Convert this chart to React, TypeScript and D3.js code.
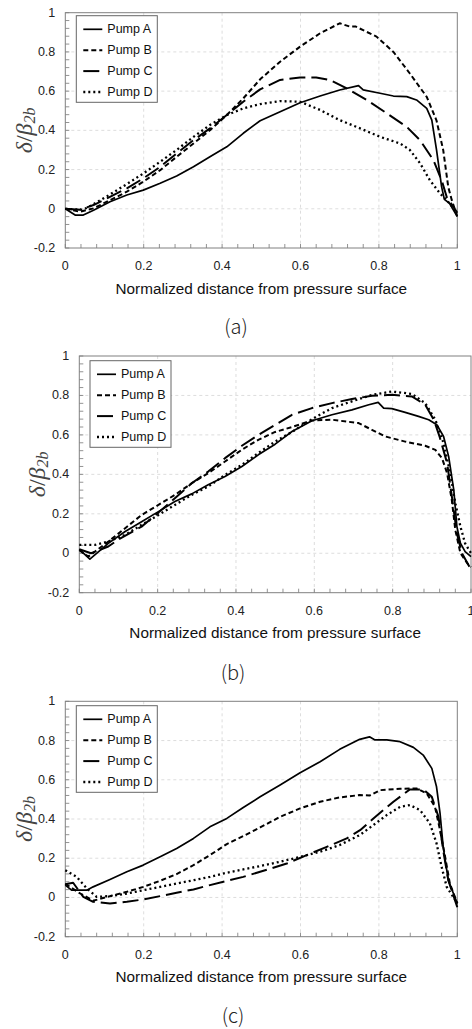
import React from "react";
import * as d3 from "d3";

type Pt = [number, number];

// ---------- data ----------
const pumpNames = ["Pump A", "Pump B", "Pump C", "Pump D"];
const xTicks = [0, 0.2, 0.4, 0.6, 0.8, 1];
const yTicks = [-0.2, 0, 0.2, 0.4, 0.6, 0.8, 1];
const xTickLabels = ["0", "0.2", "0.4", "0.6", "0.8", "1"];
const yTickLabels = ["-0.2", "0", "0.2", "0.4", "0.6", "0.8", "1"];
const captions = ["(a)", "(b)", "(c)"];

const aPumpA: Pt[] = [[0,0],[0.025,-0.032],[0.046,-0.032],[0.072,-0.007],[0.114,0.036],[0.157,0.07],[0.199,0.095],[0.242,0.13],[0.284,0.167],[0.327,0.214],[0.369,0.265],[0.412,0.316],[0.454,0.385],[0.497,0.449],[0.548,0.495],[0.599,0.541],[0.65,0.575],[0.70,0.606],[0.748,0.628],[0.76,0.606],[0.803,0.589],[0.837,0.575],[0.871,0.572],[0.896,0.555],[0.922,0.512],[0.935,0.452],[0.947,0.30],[0.96,0.112],[0.967,0.048],[0.98,0.028],[1.0,-0.04]];
const aPumpB: Pt[] = [[0,0],[0.037,-0.015],[0.072,0.002],[0.114,0.044],[0.157,0.087],[0.199,0.138],[0.242,0.197],[0.284,0.265],[0.327,0.333],[0.369,0.401],[0.412,0.478],[0.454,0.563],[0.497,0.66],[0.548,0.75],[0.599,0.827],[0.65,0.895],[0.70,0.946],[0.726,0.929],[0.74,0.93],[0.794,0.878],[0.837,0.80],[0.879,0.69],[0.922,0.571],[0.947,0.45],[0.964,0.30],[0.977,0.11],[0.986,0.044],[1.0,-0.04]];
const aPumpC: Pt[] = [[0,0],[0.037,-0.005],[0.072,0.019],[0.114,0.061],[0.157,0.104],[0.199,0.155],[0.242,0.214],[0.284,0.282],[0.327,0.35],[0.369,0.41],[0.412,0.478],[0.454,0.546],[0.497,0.609],[0.548,0.657],[0.599,0.67],[0.64,0.67],[0.675,0.657],[0.718,0.614],[0.769,0.555],[0.82,0.487],[0.871,0.418],[0.905,0.35],[0.939,0.248],[0.96,0.146],[0.973,0.06],[1.0,-0.02]];
const aPumpD: Pt[] = [[0,0],[0.046,-0.005],[0.072,0.024],[0.114,0.073],[0.157,0.126],[0.199,0.18],[0.242,0.24],[0.284,0.30],[0.327,0.367],[0.369,0.427],[0.412,0.478],[0.454,0.512],[0.497,0.534],[0.548,0.549],[0.599,0.546],[0.65,0.504],[0.70,0.452],[0.752,0.41],[0.803,0.367],[0.854,0.333],[0.879,0.30],[0.905,0.232],[0.93,0.146],[0.956,0.078],[0.973,0.044],[1.0,-0.02]];

const bPumpA: Pt[] = [[0,0.02],[0.027,-0.03],[0.074,0.05],[0.117,0.11],[0.159,0.16],[0.202,0.211],[0.244,0.262],[0.287,0.301],[0.329,0.347],[0.372,0.389],[0.415,0.44],[0.457,0.499],[0.50,0.553],[0.543,0.617],[0.594,0.672],[0.645,0.702],[0.696,0.727],[0.739,0.753],[0.763,0.765],[0.777,0.736],[0.798,0.733],[0.832,0.714],[0.866,0.694],[0.892,0.677],[0.913,0.651],[0.93,0.592],[0.943,0.49],[0.956,0.321],[0.964,0.135],[0.973,0.051],[0.985,0.008],[1.0,-0.017]];
const bPumpB: Pt[] = [[0,0.015],[0.023,-0.017],[0.074,0.059],[0.117,0.127],[0.159,0.194],[0.202,0.245],[0.244,0.296],[0.287,0.355],[0.329,0.406],[0.372,0.465],[0.415,0.525],[0.457,0.575],[0.50,0.615],[0.543,0.64],[0.594,0.673],[0.645,0.677],[0.713,0.66],[0.747,0.626],[0.781,0.592],[0.832,0.566],[0.883,0.545],[0.909,0.524],[0.926,0.482],[0.939,0.406],[0.951,0.27],[0.96,0.118],[0.973,0.0],[0.994,-0.06],[1.0,-0.07]];
const bPumpC: Pt[] = [[0,0.02],[0.03,0.0],[0.074,0.034],[0.10,0.07],[0.159,0.135],[0.202,0.206],[0.244,0.279],[0.287,0.355],[0.329,0.414],[0.372,0.482],[0.415,0.545],[0.457,0.60],[0.50,0.651],[0.543,0.702],[0.594,0.736],[0.645,0.761],[0.696,0.782],[0.747,0.798],[0.798,0.803],[0.849,0.795],[0.883,0.753],[0.905,0.677],[0.92,0.59],[0.939,0.457],[0.951,0.29],[0.964,0.10],[0.977,0.0],[0.996,-0.068]];
const bPumpD: Pt[] = [[0,0.042],[0.04,0.042],[0.074,0.059],[0.117,0.093],[0.159,0.144],[0.202,0.194],[0.244,0.245],[0.287,0.296],[0.329,0.338],[0.372,0.397],[0.415,0.448],[0.457,0.508],[0.50,0.566],[0.543,0.615],[0.594,0.68],[0.645,0.736],[0.696,0.77],[0.747,0.803],[0.798,0.82],[0.849,0.808],[0.883,0.761],[0.909,0.677],[0.93,0.558],[0.947,0.406],[0.96,0.254],[0.973,0.135],[0.985,0.05],[1.0,0.0]];

const cPumpA: Pt[] = [[0,0.063],[0.016,0.037],[0.055,0.037],[0.071,0.054],[0.114,0.092],[0.157,0.131],[0.199,0.165],[0.242,0.207],[0.284,0.25],[0.327,0.301],[0.369,0.36],[0.412,0.403],[0.454,0.459],[0.497,0.513],[0.548,0.573],[0.599,0.636],[0.65,0.692],[0.70,0.755],[0.751,0.806],[0.776,0.819],[0.79,0.803],[0.82,0.803],[0.854,0.794],[0.888,0.765],[0.913,0.726],[0.935,0.658],[0.947,0.564],[0.956,0.429],[0.964,0.258],[0.977,0.088],[1.0,-0.031]];
const cPumpB: Pt[] = [[0,0.07],[0.03,0.03],[0.071,-0.017],[0.114,0.007],[0.157,0.029],[0.199,0.054],[0.242,0.085],[0.284,0.119],[0.327,0.165],[0.369,0.216],[0.412,0.272],[0.454,0.313],[0.497,0.357],[0.548,0.411],[0.599,0.454],[0.65,0.488],[0.70,0.51],[0.751,0.522],[0.777,0.52],[0.803,0.547],[0.854,0.554],[0.896,0.556],[0.922,0.53],[0.943,0.462],[0.956,0.343],[0.969,0.207],[0.981,0.071],[1.0,-0.03]];
const cPumpC: Pt[] = [[0,0.067],[0.02,0.075],[0.046,0.003],[0.071,-0.022],[0.114,-0.031],[0.157,-0.022],[0.199,-0.01],[0.242,0.007],[0.284,0.024],[0.327,0.041],[0.369,0.063],[0.412,0.085],[0.454,0.105],[0.497,0.131],[0.565,0.173],[0.616,0.216],[0.667,0.258],[0.718,0.301],[0.752,0.343],[0.786,0.403],[0.837,0.488],[0.879,0.551],[0.913,0.551],[0.935,0.513],[0.952,0.411],[0.964,0.24],[0.977,0.088],[1.0,-0.05]];
const cPumpD: Pt[] = [[0,0.139],[0.029,0.105],[0.055,0.046],[0.08,0.003],[0.114,0.007],[0.157,0.02],[0.199,0.037],[0.242,0.054],[0.284,0.071],[0.327,0.088],[0.369,0.105],[0.412,0.126],[0.454,0.143],[0.497,0.16],[0.548,0.182],[0.599,0.207],[0.65,0.233],[0.70,0.267],[0.751,0.318],[0.786,0.369],[0.82,0.42],[0.854,0.462],[0.879,0.471],[0.905,0.445],[0.93,0.378],[0.947,0.276],[0.96,0.156],[0.973,0.054],[1.0,-0.03]];

const panelSeries: Pt[][][] = [
  [aPumpA, aPumpB, aPumpC, aPumpD],
  [bPumpA, bPumpB, bPumpC, bPumpD],
  [cPumpA, cPumpB, cPumpC, cPumpD],
];

// ---------- layout / style ----------
const layouts = [
  { left: 65.3, right: 457.3, top: 12.7, bottom: 248, legX: 76.3, legY: 15.7, ylabX: 24, capX: 236, capY: 325 },
  { left: 79.3, right: 471, top: 356, bottom: 592.7, legX: 90, legY: 360.7, ylabX: 37, capX: 233, capY: 671 },
  { left: 65.3, right: 457.3, top: 701.3, bottom: 936.7, legX: 76.3, legY: 705.7, ylabX: 24, capX: 233, capY: 1014 },
];
const dashes = [null, "5,3", "16,6", "2,3"];
const widths = [1.7, 2, 2, 2.3];
const sans = "'Liberation Sans', Arial, sans-serif";
const serif = "'Liberation Serif', 'Times New Roman', serif";

function Panel({ idx }: { idx: number }) {
  const L = layouts[idx];
  const x = d3.scaleLinear().domain([0, 1]).range([L.left, L.right]);
  const y = d3.scaleLinear().domain([-0.2, 1]).range([L.bottom, L.top]);
  const line = d3.line<Pt>().x((d) => x(d[0])).y((d) => y(d[1]));
  const minorX = d3.range(0, 1.0001, 0.04);
  const minorY = d3.range(-0.2, 1.0001, 0.04);
  const legW = 81, legH = 86.6;
  return (
    <g>
      {xTicks.slice(1, -1).map((t) => (
        <line key={"gx" + t} x1={x(t)} x2={x(t)} y1={L.top} y2={L.bottom} stroke="#d4d4d4" strokeDasharray="3,3" strokeWidth={0.8} />
      ))}
      {yTicks.slice(1, -1).map((t) => (
        <line key={"gy" + t} x1={L.left} x2={L.right} y1={y(t)} y2={y(t)} stroke="#d4d4d4" strokeDasharray="3,3" strokeWidth={0.8} />
      ))}
      {minorX.map((t, i) => (
        <line key={"mx" + i} x1={x(t)} x2={x(t)} y1={L.bottom} y2={L.bottom - 4} stroke="#777" strokeWidth={0.8} />
      ))}
      {minorY.map((t, i) => (
        <line key={"my" + i} x1={L.left} x2={L.left + 4} y1={y(t)} y2={y(t)} stroke="#777" strokeWidth={0.8} />
      ))}
      <rect x={L.left} y={L.top} width={L.right - L.left} height={L.bottom - L.top} fill="none" stroke="#808080" strokeWidth={1} />
      {panelSeries[idx].map((s, i) => (
        <path key={"s" + i} d={line(s) || ""} fill="none" stroke="#000" strokeWidth={widths[i]}
          strokeDasharray={dashes[i] || undefined} strokeLinejoin="round" />
      ))}
      <rect x={L.legX} y={L.legY} width={legW} height={legH} fill="#fff" stroke="#666" strokeWidth={1} />
      {pumpNames.map((n, i) => {
        const ly = L.legY + 13.6 + i * 20.9;
        return (
          <g key={"l" + i}>
            <line x1={L.legX + 7} x2={L.legX + 26} y1={ly} y2={ly} stroke="#000" strokeWidth={widths[i]} strokeDasharray={dashes[i] || undefined} />
            <text x={L.legX + 31} y={ly} dominantBaseline="central" fontFamily={sans} fontSize={12.5} fill="#111">{n}</text>
          </g>
        );
      })}
      {xTicks.map((t, i) => (
        <text key={"xt" + i} x={x(t)} y={L.bottom + 18} textAnchor="middle" dominantBaseline="central" fontFamily={sans} fontSize={12.5} fill="#222">{xTickLabels[i]}</text>
      ))}
      {yTicks.map((t, i) => (
        <text key={"yt" + i} x={L.left - 10} y={y(t)} textAnchor="end" dominantBaseline="central" fontFamily={sans} fontSize={12.5} fill="#222">{yTickLabels[i]}</text>
      ))}
      <text x={(L.left + L.right) / 2} y={L.bottom + 40} textAnchor="middle" dominantBaseline="central" fontFamily={sans} fontSize={15.3} fill="#111">
        Normalized distance from pressure surface
      </text>
      <text transform={`translate(${L.ylabX},${(L.top + L.bottom) / 2}) rotate(-90)`} textAnchor="middle" dominantBaseline="central" fontFamily={serif} fontSize={24} fill="#444">
        <tspan fontStyle="italic">δ</tspan>
        <tspan>/</tspan>
        <tspan fontStyle="italic">β</tspan>
        <tspan fontStyle="italic" fontSize={16} dy={5}>2b</tspan>
      </text>
      <text x={L.capX} y={L.capY} textAnchor="middle" dominantBaseline="central" fontFamily="'Noto Sans CJK KR', 'Noto Sans', sans-serif" fontWeight={300} fontSize={20} fill="#222">
        {captions[idx]}
      </text>
    </g>
  );
}

export default function App() {
  return (
    <svg width={472} height={1029} style={{ position: "absolute", left: 0, top: 0, background: "#fff" }}>
      <rect x={0} y={0} width={472} height={1029} fill="#fff" />
      {[0, 1, 2].map((i) => (
        <Panel key={i} idx={i} />
      ))}
    </svg>
  );
}
